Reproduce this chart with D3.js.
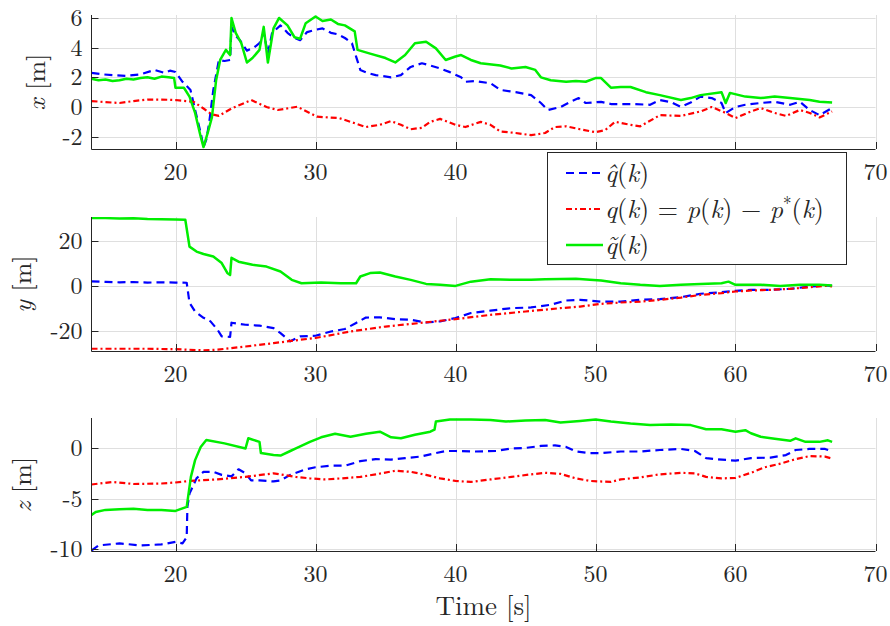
<!DOCTYPE html>
<html>
<head>
<meta charset="utf-8">
<script src="https://cdn.jsdelivr.net/npm/d3@7"></script>
<style>
  body { margin: 0; background: #fff; }
</style>
</head>
<body>
<script>
// time ticks shared by all three panels
var timeTicks = [20, 30, 40, 50, 60, 70];

// panel 1: x [m]
var xTicks = [-2, 0, 2, 4, 6];
var xHat = [[14,2.3],[14.8,2.2],[15.5,2.15],[16.5,2.1],[17.5,2.2],[18.5,2.5],[19.2,2.3],[19.6,2.45],[20,2.36],[20.5,1.7],[21.07,1.15],[21.4,-0.2],[21.8,-1.75],[22.0,-2.7],[22.2,-2.2],[22.4,-1.1],[22.7,1.15],[23.1,3.17],[23.5,3.1],[23.9,3.17],[24.0,5.4],[24.3,4.8],[24.6,4.5],[25.1,3.8],[25.6,4.0],[26,4.3],[26.3,5.0],[26.6,3.6],[26.9,5.0],[27.5,5.5],[28,5.0],[28.4,4.7],[28.9,4.5],[29.4,5.05],[30,5.2],[30.5,5.3],[31.1,5.0],[31.6,4.9],[32.1,4.65],[32.6,4.3],[32.9,3.4],[33.2,2.5],[33.7,2.3],[34.3,2.15],[35.4,2.0],[36.1,2.15],[36.8,2.7],[37.6,2.95],[38.2,2.8],[38.9,2.6],[39.6,2.35],[40.4,2.0],[40.7,1.7],[41.4,1.75],[42.5,1.6],[43.2,1.15],[44.3,1.0],[45.4,0.8],[46.1,0.27],[46.6,-0.2],[47.5,0.0],[48.2,0.35],[48.8,0.6],[49.3,0.27],[50.4,0.35],[51.1,0.2],[52.5,0.2],[53.9,0.15],[54.6,0.47],[55.4,0.33],[56.1,0.0],[56.8,0.3],[57.5,0.7],[58.3,0.6],[59,0.27],[59.3,-0.4],[60,0.0],[60.7,0.15],[61.8,0.27],[62.8,0.35],[63.9,0.15],[64.6,0.35],[65.3,-0.2],[66,-0.55],[66.9,-0.07]];
var xTrue = [[14,0.4],[15,0.33],[16,0.27],[17,0.4],[18,0.5],[19,0.5],[20,0.47],[21.3,0.35],[22,-0.1],[22.6,-0.5],[23.1,-0.6],[24,-0.1],[25.4,0.47],[26.5,0.0],[27.3,-0.2],[28.7,0.02],[30.1,-0.65],[31.7,-0.75],[32.5,-1.0],[33.6,-1.35],[34.6,-1.2],[35.4,-0.95],[36.1,-1.2],[36.8,-1.5],[37.6,-1.4],[38.2,-1.0],[38.9,-0.8],[40,-1.2],[40.7,-1.35],[41.8,-1.0],[42.5,-1.2],[43.2,-1.65],[44.3,-1.75],[45.4,-1.9],[46.4,-1.75],[47.1,-1.35],[47.9,-1.3],[48.9,-1.5],[50,-1.7],[50.7,-1.55],[51.4,-1.0],[52.5,-1.2],[53.2,-1.3],[54.6,-0.55],[56.1,-0.6],[57.5,-0.3],[58.3,0],[59.3,-0.4],[60,-0.75],[61.1,-0.3],[61.8,-0.07],[62.8,-0.4],[63.6,-0.6],[64.6,-0.2],[65.3,-0.4],[66,-0.7],[66.9,-0.3]];
var xTilde = [[14,1.9],[14.5,1.8],[15,1.85],[15.5,1.75],[16,1.8],[16.5,1.9],[17,1.85],[17.5,1.95],[18,2.0],[18.5,1.9],[19,2.05],[19.5,2.0],[19.9,1.95],[20.0,1.3],[20.6,1.3],[21.0,0.7],[21.4,-0.4],[21.8,-2.0],[22.0,-2.7],[22.3,-1.75],[22.6,-0.7],[22.9,1.8],[23.2,3.2],[23.6,3.85],[23.9,3.5],[24.0,6.0],[24.3,5.0],[24.7,4.3],[25.1,3.0],[25.5,3.3],[26,3.85],[26.3,5.4],[26.6,3.0],[27,5.3],[27.4,6.0],[28,5.5],[28.5,4.7],[28.9,4.6],[29.3,5.65],[30,6.1],[30.5,5.8],[31.1,5.9],[31.6,5.6],[32.1,5.5],[32.8,5.1],[33,3.85],[33.9,3.6],[35,3.3],[35.7,3.0],[36.4,3.5],[37.1,4.3],[37.9,4.4],[38.6,3.95],[39.3,3.17],[40,3.4],[40.4,3.5],[41.1,3.17],[41.8,2.95],[43.2,2.8],[44,2.6],[45,2.7],[45.7,2.5],[46.1,2.0],[46.8,1.8],[47.9,1.7],[48.6,1.75],[49.3,1.7],[50,1.95],[50.4,1.95],[51.1,1.3],[51.8,1.35],[52.5,1.35],[53.6,1.0],[54.6,0.8],[56.1,0.47],[56.8,0.6],[57.5,0.8],[59,1.0],[59.3,0.27],[59.6,0.95],[60.7,0.7],[61.8,0.6],[62.8,0.7],[63.9,0.6],[65.3,0.47],[66,0.35],[66.9,0.3]];

// panel 2: y [m]
var yTicks = [-20, 0, 20];
var yHat = [[14,2.0],[15,1.8],[16,1.6],[17,1.7],[18,1.5],[19,1.6],[20,1.5],[20.8,1.4],[21.0,-7.5],[21.4,-11.4],[22,-14.2],[22.5,-15.8],[23,-19.5],[23.3,-22.5],[23.9,-22.7],[24.0,-16.4],[25,-17.3],[26,-17.7],[27,-18.8],[27.5,-21],[28.2,-24.7],[28.9,-22.5],[30,-22.2],[31.1,-20.3],[32.1,-19.2],[32.9,-16.5],[33.6,-14.1],[34.6,-14],[35.7,-14.8],[36.8,-15.1],[37.9,-16.3],[38.9,-15.8],[40,-14.3],[41.1,-12.1],[42.5,-11],[44,-9.9],[45.4,-9.6],[46.8,-8.4],[47.9,-6.5],[48.9,-6.2],[50.4,-7.0],[51.8,-7.0],[53.2,-6.2],[54.6,-5.9],[56.1,-5.0],[57.5,-3.5],[59,-2.8],[60,-2.2],[61.1,-1.75],[62.5,-1.75],[63.9,-1.3],[65.3,-0.3],[66.4,0.2],[66.9,0]];
var yTrue = [[14,-28],[16,-28],[18,-28],[20,-28.2],[22,-28.7],[23,-28.4],[25,-27],[27,-25.5],[28.9,-24],[30,-23.2],[32.5,-20.3],[35,-18.1],[37.5,-16.5],[40,-14.8],[42.5,-12.9],[45,-11.4],[47.5,-9.9],[48.9,-9.2],[50.4,-8.0],[51.8,-7.4],[53.2,-7.0],[54.6,-6.2],[56.1,-5.2],[57.5,-4.0],[59,-3.2],[60,-2.5],[61.1,-2.05],[62.5,-1.75],[63.9,-1.3],[65.3,-0.55],[66.4,0.0],[66.9,-0.2]];
var yTilde = [[14,30.3],[15,30.2],[16,30.0],[17,30.1],[18,29.8],[19,29.7],[20,29.6],[20.7,29.5],[21,17.5],[21.5,15.3],[22,14.2],[22.7,13.1],[23.3,10.2],[23.7,5.8],[23.9,4.9],[24.0,12.5],[24.5,10.8],[25.5,9.4],[26.5,8.6],[27.5,6.4],[28.3,2.7],[29,1.2],[30.4,1.5],[31.8,1.2],[32.9,1.2],[33.2,4.2],[33.9,5.7],[34.6,6.0],[35.7,4.2],[36.8,2.7],[37.9,0.9],[38.9,0.5],[40,0],[41.1,1.9],[42.5,3.0],[44,2.7],[45.4,2.7],[46.4,3.0],[47.5,3.1],[48.6,3.2],[49.6,2.7],[50.4,2.4],[51.8,1.2],[53.2,0.5],[54.6,0.0],[56.1,0.5],[57.5,0.9],[59,1.2],[59.5,1.9],[60,0.5],[61.8,0.5],[63.2,0.0],[64.6,0.5],[66,0.5],[66.9,0.2]];

// panel 3: z [m]
var zTicks = [-10, -5, 0];
var zHat = [[14,-10.1],[14.5,-9.6],[16,-9.4],[17.5,-9.6],[19,-9.5],[20,-9.25],[20.5,-9.4],[20.8,-8.8],[20.85,-5.8],[21,-4.5],[21.5,-3.0],[22,-2.35],[22.7,-2.35],[23.3,-2.65],[24,-2.8],[24.5,-2.1],[25,-2.5],[25.4,-3.2],[26,-3.2],[27,-3.3],[27.5,-3.2],[28.2,-2.65],[29.3,-2.1],[30,-1.9],[31.1,-1.75],[32.1,-1.75],[33.2,-1.3],[34.3,-1.1],[35.4,-1.15],[36.4,-1.0],[37.5,-0.85],[38.6,-0.5],[39.3,-0.3],[40,-0.3],[41.4,-0.35],[42.9,-0.3],[44,-0.05],[45,0.0],[46.1,0.2],[47.1,0.25],[47.9,0.1],[48.6,-0.35],[49.6,-0.5],[50.4,-0.5],[51.8,-0.35],[53.2,-0.35],[54.6,-0.2],[56.1,-0.1],[57.1,-0.3],[57.9,-1.0],[58.6,-1.1],[60,-1.25],[61.1,-1.0],[62.5,-0.95],[63.6,-0.7],[64.3,-0.2],[65.3,-0.1],[66.4,-0.1],[66.9,-0.35]];
var zTrue = [[14,-3.6],[15.5,-3.35],[17,-3.55],[19,-3.5],[20,-3.4],[21,-3.25],[23,-3.1],[25,-2.85],[27,-2.5],[28.6,-2.85],[29.6,-3.0],[30.7,-3.1],[31.8,-3.0],[33.2,-2.85],[34.3,-2.6],[35.7,-2.25],[36.8,-2.35],[37.9,-2.65],[38.9,-3.0],[40,-3.25],[41.1,-3.35],[42.5,-3.1],[44,-2.85],[45.4,-2.6],[46.4,-2.45],[47.5,-2.55],[48.6,-3.0],[49.6,-3.25],[51.1,-3.35],[51.8,-3.1],[53.2,-2.9],[54.6,-2.6],[56.1,-2.45],[57.1,-2.5],[57.9,-2.85],[59,-3.0],[60,-2.95],[61.1,-2.45],[62.1,-1.9],[63.2,-1.55],[64.3,-1.1],[65.3,-0.8],[66.4,-0.85],[66.9,-1.05]];
var zTilde = [[14,-6.6],[14.3,-6.3],[15,-6.1],[16,-6.05],[17,-6.0],[18,-6.1],[19,-6.1],[20,-6.2],[20.8,-5.8],[21.1,-2.85],[21.4,-1.2],[21.8,0.1],[22.2,0.78],[23.5,0.45],[25,-0.05],[25.2,0.95],[26,0.6],[26.1,-0.5],[27,-0.7],[27.5,-0.75],[28.2,-0.3],[28.6,-0.05],[29.6,0.6],[30.4,1.05],[31.4,1.4],[32.5,1.1],[33.6,1.4],[34.6,1.6],[35.4,1.05],[36.1,0.95],[37.1,1.3],[38.2,1.6],[38.5,1.8],[38.6,2.6],[39.6,2.8],[41.1,2.8],[42.5,2.75],[43.6,2.6],[45,2.7],[46.4,2.75],[47.5,2.5],[48.9,2.65],[50,2.8],[51.1,2.6],[52.5,2.4],[53.9,2.25],[55.4,2.3],[56.8,2.25],[57.9,1.85],[59,1.85],[60,1.6],[60.7,1.75],[61.1,1.45],[61.8,1.1],[62.8,0.9],[63.9,0.7],[64.3,0.95],[65,0.6],[66,0.6],[66.6,0.75],[66.9,0.6]];

var W = 890, H = 626;
var left = 91.5, right = 875.5;
var tickLen = 7;
var gridColor = '#dfdfdf', axisColor = '#262626', textColor = '#262626';
var serif = "'Latin Modern Roman', 'Liberation Serif', serif";

// legend box (it sits over the lower part of the top panel)
var legendBox = {x: 547.5, y: 152.5, w: 299, h: 112};

var svg = d3.select('body').append('svg')
    .attr('width', W).attr('height', H)
    .style('font-family', serif);

var x = d3.scaleLinear().domain([14, 70]).range([left, right]);

var panels = [
    {id: 'px', label: 'x', top: 15, bottom: 149, domain: [-2.83, 6.2], ticks: xTicks, hat: xHat, tru: xTrue, tilde: xTilde, labelX: 37},
    {id: 'py', label: 'y', top: 217, bottom: 351, domain: [-29, 30.7], ticks: yTicks, hat: yHat, tru: yTrue, tilde: yTilde, labelX: 23},
    {id: 'pz', label: 'z', top: 418, bottom: 551, domain: [-10.15, 2.95], ticks: zTicks, hat: zHat, tru: zTrue, tilde: zTilde, labelX: 23}
];

// series styles
var series = [
    {key: 'hat', color: '#0000ff', dash: '8,5', width: 2.2},
    {key: 'tru', color: '#ff0000', dash: '6,3,2,3', width: 2.2},
    {key: 'tilde', color: '#00ee00', dash: null, width: 2.5}
];

// a time-tick label is hidden when it would sit under the legend box
function underLegend(d, p) {
    var lx = x(d), ly = p.bottom + 24;
    return lx > legendBox.x && lx < legendBox.x + legendBox.w && ly > legendBox.y && ly < legendBox.y + legendBox.h;
}

panels.forEach(function (p) {
    var y = d3.scaleLinear().domain(p.domain).range([p.bottom, p.top]);
    var g = svg.append('g').attr('id', p.id);

    g.append('clipPath').attr('id', 'clip-' + p.id)
        .append('rect').attr('x', left).attr('y', p.top)
        .attr('width', right - left).attr('height', p.bottom - p.top);

    // grid
    g.selectAll('line.gx').data(timeTicks).enter().append('line')
        .attr('x1', function (d) { return Math.round(x(d)) + 0.5; })
        .attr('x2', function (d) { return Math.round(x(d)) + 0.5; })
        .attr('y1', p.top).attr('y2', p.bottom)
        .attr('stroke', gridColor).attr('stroke-width', 1);
    g.selectAll('line.gy').data(p.ticks).enter().append('line')
        .attr('x1', left).attr('x2', right)
        .attr('y1', function (d) { return Math.round(y(d)) + 0.5; })
        .attr('y2', function (d) { return Math.round(y(d)) + 0.5; })
        .attr('stroke', gridColor).attr('stroke-width', 1);

    // lines
    var line = d3.line().x(function (d) { return x(d[0]); }).y(function (d) { return y(d[1]); });
    series.forEach(function (s) {
        g.append('path')
            .attr('d', line(p[s.key]))
            .attr('clip-path', 'url(#clip-' + p.id + ')')
            .attr('fill', 'none')
            .attr('stroke', s.color)
            .attr('stroke-width', s.width)
            .attr('stroke-dasharray', s.dash)
            .attr('stroke-linejoin', 'round');
    });

    // axes (inward ticks, MATLAB style)
    g.append('line').attr('x1', left).attr('x2', left).attr('y1', p.top).attr('y2', p.bottom + 0.5)
        .attr('stroke', axisColor).attr('stroke-width', 1);
    g.append('line').attr('x1', left).attr('x2', right).attr('y1', p.bottom + 0.5).attr('y2', p.bottom + 0.5)
        .attr('stroke', axisColor).attr('stroke-width', 1);
    g.selectAll('line.tx').data(timeTicks).enter().append('line')
        .attr('x1', function (d) { return Math.round(x(d)) + 0.5; })
        .attr('x2', function (d) { return Math.round(x(d)) + 0.5; })
        .attr('y1', p.bottom).attr('y2', p.bottom - tickLen)
        .attr('stroke', axisColor).attr('stroke-width', 1);
    g.selectAll('line.ty').data(p.ticks).enter().append('line')
        .attr('x1', left).attr('x2', left + tickLen)
        .attr('y1', function (d) { return Math.round(y(d)) + 0.5; })
        .attr('y2', function (d) { return Math.round(y(d)) + 0.5; })
        .attr('stroke', axisColor).attr('stroke-width', 1);

    // tick labels
    g.selectAll('text.tx').data(timeTicks.filter(function (d) { return !underLegend(d, p); }))
        .enter().append('text')
        .attr('x', function (d) { return x(d); })
        .attr('y', p.bottom + 31)
        .attr('text-anchor', 'middle')
        .attr('font-size', 24)
        .attr('fill', textColor)
        .text(function (d) { return d; });
    g.selectAll('text.ty').data(p.ticks).enter().append('text')
        .attr('x', left - 9)
        .attr('y', function (d) { return y(d); })
        .attr('dy', '0.33em')
        .attr('text-anchor', 'end')
        .attr('font-size', 24)
        .attr('fill', textColor)
        .text(function (d) { return d; });

    // y label
    var lab = g.append('text')
        .attr('transform', 'translate(' + p.labelX + ',' + ((p.top + p.bottom) / 2) + ') rotate(-90)')
        .attr('text-anchor', 'middle')
        .attr('dy', '0.3em')
        .attr('font-size', 26)
        .attr('fill', textColor);
    lab.append('tspan').attr('font-style', 'italic').text(p.label);
    lab.append('tspan').text(' [m]');
});

// x label
svg.append('text')
    .attr('x', (left + right) / 2)
    .attr('y', 615)
    .attr('text-anchor', 'middle')
    .attr('font-size', 27)
    .attr('fill', textColor)
    .text('Time [s]');

// legend
var legendItems = [
    {key: 'hat', parts: [['q\u0302', 1], ['(', 0], ['k', 1], [')', 0]]},
    {key: 'tru', parts: [['q', 1], ['(', 0], ['k', 1], [')', 0], [' = ', 0], ['p', 1], ['(', 0], ['k', 1], [')', 0], [' \u2212 ', 0], ['p', 1], ['*', 2], ['(', 3], ['k', 1], [')', 0]]},
    {key: 'tilde', parts: [['q\u0303', 1], ['(', 0], ['k', 1], [')', 0]]}
];
var lg = svg.append('g').attr('id', 'legend');
lg.append('rect').attr('x', legendBox.x).attr('y', legendBox.y).attr('width', legendBox.w).attr('height', legendBox.h)
    .attr('fill', '#fff').attr('stroke', axisColor).attr('stroke-width', 1);
var rowY = [173, 209, 245];
legendItems.forEach(function (it, i) {
    var s = series.filter(function (d) { return d.key === it.key; })[0];
    lg.append('line').attr('x1', 566).attr('x2', 603).attr('y1', rowY[i]).attr('y2', rowY[i])
        .attr('stroke', s.color).attr('stroke-width', s.width).attr('stroke-dasharray', s.dash);
    var t = lg.append('text').attr('x', 605).attr('y', rowY[i]).attr('dy', '0.33em')
        .attr('font-size', 26).attr('fill', textColor);
    it.parts.forEach(function (pt) {
        var ts = t.append('tspan').text(pt[0]);
        if (pt[1] === 1) ts.attr('font-style', 'italic');
        if (pt[1] === 2) ts.attr('font-size', 17).attr('dy', '-0.5em');
        if (pt[1] === 3) ts.attr('dy', '0.33em');
    });
});
</script>
</body>
</html>
